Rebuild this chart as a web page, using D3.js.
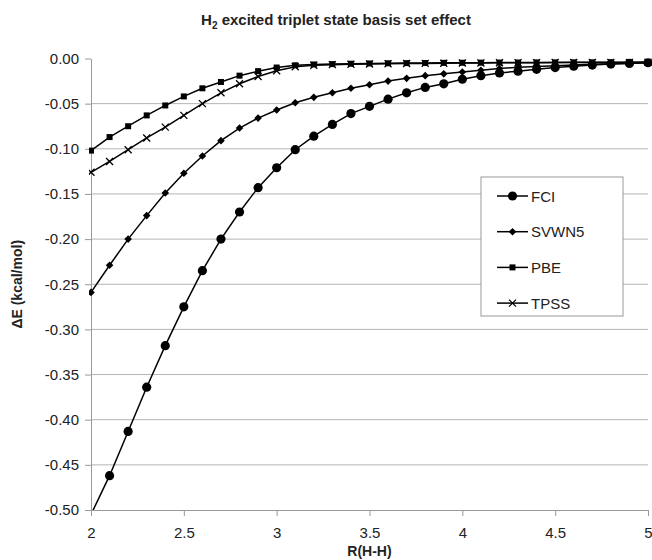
<!DOCTYPE html>
<html>
<head>
<meta charset="utf-8">
<script src="https://cdn.jsdelivr.net/npm/d3@7"></script>
<style>
  body { margin: 0; background: #fff; }
  svg { font-family: "Liberation Sans", Arial, sans-serif; }
</style>
</head>
<body>
<div id="chart"></div>
<script>
// R(H-H) grid, 2.0 .. 5.0 step 0.1
const rValues = [2.0, 2.1, 2.2, 2.3, 2.4, 2.5, 2.6, 2.7, 2.8, 2.9,
                 3.0, 3.1, 3.2, 3.3, 3.4, 3.5, 3.6, 3.7, 3.8, 3.9,
                 4.0, 4.1, 4.2, 4.3, 4.4, 4.5, 4.6, 4.7, 4.8, 4.9, 5.0];

const fci = [-0.505, -0.462, -0.413, -0.364, -0.318, -0.275, -0.235, -0.200, -0.170, -0.143,
             -0.121, -0.101, -0.086, -0.073, -0.061, -0.053, -0.045, -0.038, -0.032, -0.028,
             -0.023, -0.019, -0.016, -0.014, -0.012, -0.010, -0.0085, -0.0073, -0.0062, -0.0054, -0.0047];

const svwn5 = [-0.259, -0.229, -0.200, -0.174, -0.149, -0.127, -0.108, -0.091, -0.077, -0.066,
               -0.057, -0.049, -0.043, -0.038, -0.033, -0.029, -0.025, -0.022, -0.019, -0.017,
               -0.015, -0.013, -0.011, -0.0098, -0.0089, -0.0080, -0.0071, -0.0064, -0.0057, -0.0052, -0.0047];

const pbe = [-0.102, -0.087, -0.075, -0.063, -0.052, -0.042, -0.033, -0.026, -0.019, -0.014,
             -0.010, -0.0075, -0.0066, -0.0062, -0.0058, -0.0055, -0.0053, -0.0051, -0.0050, -0.0048,
             -0.0047, -0.0046, -0.0045, -0.0044, -0.0043, -0.0043, -0.0042, -0.0042, -0.0041, -0.0041, -0.0040];

const tpss = [-0.126, -0.114, -0.101, -0.088, -0.076, -0.063, -0.050, -0.038, -0.028, -0.020,
              -0.0135, -0.0092, -0.0074, -0.0068, -0.0064, -0.0061, -0.0058, -0.0056, -0.0054, -0.0052,
              -0.0050, -0.0049, -0.0048, -0.0047, -0.0046, -0.0045, -0.0044, -0.0044, -0.0043, -0.0043, -0.0042];

const seriesNames = ["FCI", "SVWN5", "PBE", "TPSS"];
const seriesValues = [fci, svwn5, pbe, tpss];
const seriesMarkers = ["circle", "diamond", "square", "cross"];

const xTicks = [2, 2.5, 3, 3.5, 4, 4.5, 5];
const yTicks = [0, -0.05, -0.10, -0.15, -0.20, -0.25, -0.30, -0.35, -0.40, -0.45, -0.50];

// layout
const W = 652, H = 560;
const margin = {top: 58.5, right: 4, bottom: 50, left: 91};
const width = W - margin.left - margin.right;
const height = H - margin.top - margin.bottom;

const svg = d3.select("#chart").append("svg")
    .attr("width", W).attr("height", H);

const g = svg.append("g")
    .attr("transform", `translate(${margin.left},${margin.top})`);

const x = d3.scaleLinear().domain([2, 5]).range([0, width]);
const y = d3.scaleLinear().domain([-0.5, 0]).range([height, 0]);

// gridlines
g.append("g")
    .selectAll("line")
    .data(yTicks.filter(t => t !== 0 && t !== -0.5))
    .enter().append("line")
        .attr("x1", 0).attr("x2", width)
        .attr("y1", d => y(d)).attr("y2", d => y(d))
        .attr("stroke", "#b4b4b4").attr("stroke-width", 1);

// y axis
const yAxis = g.append("g")
    .call(d3.axisLeft(y).tickValues(yTicks).tickFormat(d3.format(".2f")).tickSize(6).tickSizeOuter(0));
yAxis.select(".domain").attr("stroke", "#999");
yAxis.selectAll(".tick line").attr("stroke", "#999");
yAxis.selectAll(".tick text")
    .attr("x", -12).attr("font-size", 15).attr("fill", "#222")
    .text(d => d3.format(".2f")(d).replace("−", "-"));

// x axis
const xAxis = g.append("g")
    .attr("transform", `translate(0,${height})`)
    .call(d3.axisBottom(x).tickValues(xTicks).tickFormat(d => d).tickSize(6).tickSizeOuter(0));
xAxis.select(".domain").attr("stroke", "#999");
xAxis.selectAll(".tick line").attr("stroke", "#999");
xAxis.selectAll(".tick text")
    .attr("y", 17).attr("font-size", 15).attr("fill", "#222");

// axis titles
svg.append("text")
    .attr("x", margin.left + width / 2).attr("y", 556)
    .attr("text-anchor", "middle").attr("font-size", 14).attr("font-weight", "bold")
    .attr("fill", "#222")
    .text("R(H-H)");

svg.append("text")
    .attr("transform", `translate(22,${margin.top + height / 2}) rotate(-90)`)
    .attr("text-anchor", "middle").attr("font-size", 14).attr("font-weight", "bold")
    .attr("fill", "#222")
    .text("ΔE (kcal/mol)");

// title
const title = svg.append("text")
    .attr("x", 336).attr("y", 25)
    .attr("text-anchor", "middle").attr("font-size", 15).attr("font-weight", "bold")
    .attr("fill", "#222");
title.append("tspan").text("H");
title.append("tspan").attr("font-size", 10).attr("dy", 4).text("2");
title.append("tspan").attr("dy", -4).text(" excited triplet state basis set effect");

// clip for lines
svg.append("defs").append("clipPath").attr("id", "plotclip")
  .append("rect").attr("x", -2).attr("y", -10).attr("width", width + 12).attr("height", height + 10);

// marker drawing
function drawMarker(sel, type) {
    if (type === "circle") {
        sel.append("circle").attr("r", 4.6).attr("fill", "#000");
    } else if (type === "diamond") {
        sel.append("path").attr("d", "M0,-3.8L3.8,0L0,3.8L-3.8,0Z").attr("fill", "#000");
    } else if (type === "square") {
        sel.append("rect").attr("x", -3).attr("y", -3).attr("width", 6).attr("height", 6).attr("fill", "#000");
    } else {
        sel.append("path").attr("d", "M-3.5,-3.5L3.5,3.5M-3.5,3.5L3.5,-3.5")
            .attr("stroke", "#000").attr("stroke-width", 1.3).attr("fill", "none");
    }
}

const line = d3.line().x(d => x(d[0])).y(d => y(d[1]));

seriesNames.forEach((name, i) => {
    const pts = rValues.map((r, j) => [r, seriesValues[i][j]]);
    const sg = g.append("g").attr("clip-path", "url(#plotclip)");
    sg.append("path")
        .datum(pts)
        .attr("d", line)
        .attr("fill", "none").attr("stroke", "#000").attr("stroke-width", 1.5);
    sg.selectAll(".m")
        .data(pts.filter(p => p[1] >= -0.5))
        .enter().append("g")
            .attr("transform", d => `translate(${x(d[0])},${y(d[1])})`)
            .each(function() { drawMarker(d3.select(this), seriesMarkers[i]); });
});

// legend
const legend = svg.append("g").attr("transform", "translate(481,177)");
legend.append("rect")
    .attr("width", 142).attr("height", 139)
    .attr("fill", "#fff").attr("stroke", "#999").attr("stroke-width", 1);

seriesNames.forEach((name, i) => {
    const row = legend.append("g").attr("transform", `translate(0,${19 + i * 35.7})`);
    row.append("line").attr("x1", 16).attr("x2", 47).attr("y1", 0).attr("y2", 0)
        .attr("stroke", "#000").attr("stroke-width", 1.5);
    const m = row.append("g").attr("transform", "translate(31.5,0)");
    drawMarker(m, seriesMarkers[i]);
    row.append("text").attr("x", 50).attr("y", 5.5)
        .attr("font-size", 15).attr("fill", "#222").text(name);
});
</script>
</body>
</html>
